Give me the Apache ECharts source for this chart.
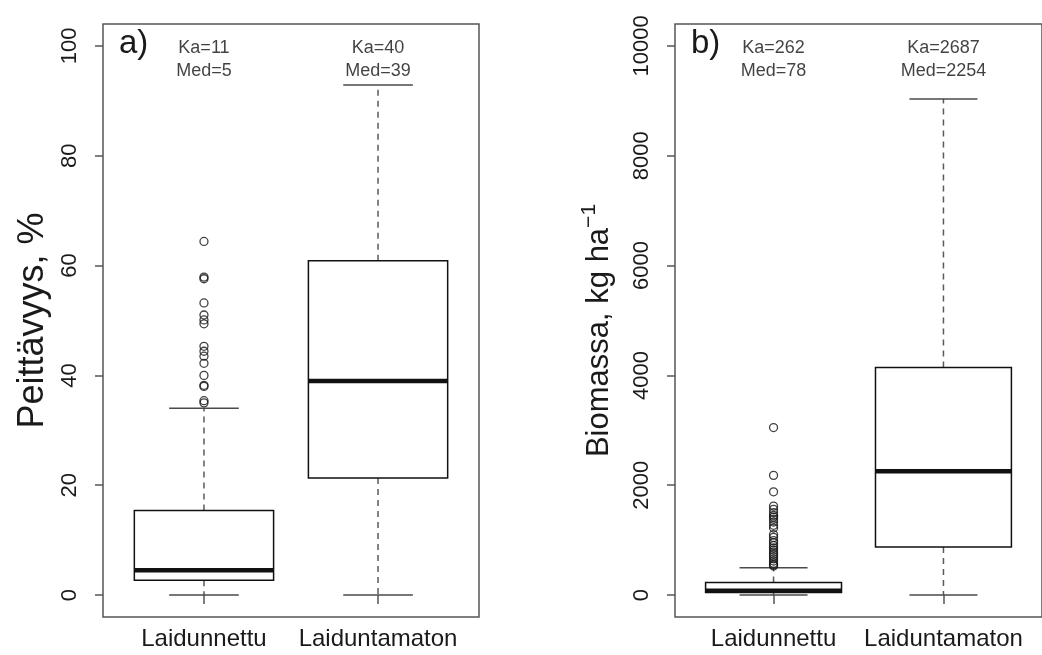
<!DOCTYPE html>
<html><head><meta charset="utf-8">
<script src="https://cdn.jsdelivr.net/npm/echarts@6/dist/echarts.min.js"></script>
<style>html,body{margin:0;padding:0;background:#fff}#c{width:1042px;height:655px}</style>
</head><body><div id="c"></div>
<script>
// ---------- data ----------
const categories = ['Laidunnettu', 'Laiduntamaton'];
// [lowerWhisker, Q1, median, Q3, upperWhisker]
const coverStats = [[0, 2.7, 4.5, 15.4, 34.0], [0, 21.3, 39, 60.9, 92.9]];
const coverOutliers = [64.4, 57.9, 57.6, 53.2, 51.0, 50.1, 49.4, 45.3, 44.4, 43.5, 42.2, 40.0, 38.2, 38.0, 35.4, 35.0];
const coverMean = [11, 40];
const coverMedian = [5, 39];
const coverTicks = [0, 20, 40, 60, 80, 100];

const biomassStats = [[0, 45, 78, 230, 497], [0, 873, 2254, 4145, 9036]];
const biomassOutliers = [3050, 2180, 1880, 1620, 1560, 1500, 1450, 1420, 1380, 1330, 1270, 1220, 1100, 1050, 990, 950, 900, 860, 820, 780, 740, 700, 660, 620, 580, 550, 530];
const biomassMean = [262, 2687];
const biomassMedian = [78, 2254];
const biomassTicks = [0, 2000, 4000, 6000, 8000, 10000];

// ---------- chart ----------
const FONT = '"Liberation Sans", Arial, Helvetica, sans-serif';
const TXT = '#1a1a1a';
const chart = echarts.init(document.getElementById('c'), null, {renderer: 'canvas'});

function renderBox(params, api) {
  const x = api.value(0);
  const lo = api.coord([x, api.value(1)]);
  const q1 = api.coord([x, api.value(2)]);
  const md = api.coord([x, api.value(3)]);
  const q3 = api.coord([x, api.value(4)]);
  const hi = api.coord([x, api.value(5)]);
  const bw = api.size([0.8, 0])[0];
  const sw = bw / 2;
  const cx = lo[0];
  const whisk = {stroke: '#5a5a5a', lineWidth: 1.5, lineDash: [6, 5], fill: null};
  const staple = {stroke: '#4a4a4a', lineWidth: 1.5, fill: null};
  return {
    type: 'group',
    children: [
      {type: 'line', shape: {x1: cx, y1: q3[1], x2: cx, y2: hi[1]}, style: whisk},
      {type: 'line', shape: {x1: cx, y1: q1[1], x2: cx, y2: lo[1]}, style: whisk},
      {type: 'line', shape: {x1: cx - sw / 2, y1: hi[1], x2: cx + sw / 2, y2: hi[1]}, style: staple},
      {type: 'line', shape: {x1: cx - sw / 2, y1: lo[1], x2: cx + sw / 2, y2: lo[1]}, style: staple},
      {type: 'rect', shape: {x: cx - bw / 2, y: q3[1], width: bw, height: q1[1] - q3[1]},
        style: {fill: '#fff', stroke: '#111', lineWidth: 1.5}},
      {type: 'line', shape: {x1: cx - bw / 2, y1: md[1], x2: cx + bw / 2, y2: md[1]},
        style: {stroke: '#111', lineWidth: 4.5}}
    ]
  };
}

function xAxisCfg(gi) {
  return {
    type: 'value', gridIndex: gi, min: 0.42, max: 2.58,
    axisLine: {show: false}, splitLine: {show: false},
    axisTick: {show: true, length: 9, customValues: [1, 2], lineStyle: {color: '#555', width: 1.5}},
    axisLabel: {show: true, customValues: [1, 2], margin: 10, fontSize: 24, color: TXT, fontFamily: FONT,
      formatter: v => categories[Math.round(v) - 1]}
  };
}
function yAxisCfg(gi, min, max, ticks, name, extra) {
  return Object.assign({
    type: 'value', gridIndex: gi, min: min, max: max,
    axisLine: {show: false}, splitLine: {show: false},
    axisTick: {show: true, length: 8, customValues: ticks, lineStyle: {color: '#555', width: 1.5}},
    axisLabel: {show: true, customValues: ticks, rotate: 90, margin: 22, fontSize: 22, color: TXT, fontFamily: FONT,
      formatter: v => String(v)},
    name: name, nameLocation: 'middle', nameGap: 52,
    nameTextStyle: {fontSize: 36, color: TXT, fontFamily: FONT}
  }, extra || {});
}

const statsRows = (s) => s.map((r, i) => [i + 1].concat(r));
const annRows = (mean, med, yv) => mean.map((m, i) => [i + 1, yv, 'Ka=' + m + '\nMed=' + med[i]]);

const option = {
  backgroundColor: '#fff',
  animation: false,
  grid: [
    {left: 103, right: 563, top: 24, bottom: 38, show: true, borderColor: '#555', borderWidth: 1.5, backgroundColor: 'transparent'},
    {left: 675, right: -9, top: 24, bottom: 38, show: true, borderColor: '#555', borderWidth: 1.5, backgroundColor: 'transparent'}
  ],
  xAxis: [xAxisCfg(0), xAxisCfg(1)],
  yAxis: [
    yAxisCfg(0, -4, 104, coverTicks, 'Peittävyys, %'),
    yAxisCfg(1, -400, 10400, biomassTicks, '{a|Biomassa, kg ha}{s|−1}', {
      nameGap: 56,
      nameTextStyle: {fontSize: 31, color: TXT, fontFamily: FONT, padding: [0, 20, 0, 0],
        rich: {a: {fontSize: 31, color: TXT, fontFamily: FONT, lineHeight: 40},
               s: {fontSize: 21, color: TXT, fontFamily: FONT, verticalAlign: 'top', lineHeight: 40}}}
    })
  ],
  series: [
    {type: 'custom', xAxisIndex: 0, yAxisIndex: 0, renderItem: renderBox, data: statsRows(coverStats),
      encode: {x: 0, y: [1, 2, 3, 4, 5]}, z: 2},
    {type: 'custom', xAxisIndex: 1, yAxisIndex: 1, renderItem: renderBox, data: statsRows(biomassStats),
      encode: {x: 0, y: [1, 2, 3, 4, 5]}, z: 2},
    {type: 'scatter', xAxisIndex: 0, yAxisIndex: 0, symbol: 'circle', symbolSize: 8,
      itemStyle: {color: 'rgba(0,0,0,0)', borderColor: '#111', borderWidth: 1.3},
      data: coverOutliers.map(v => [1, v]), z: 3},
    {type: 'scatter', xAxisIndex: 1, yAxisIndex: 1, symbol: 'circle', symbolSize: 8,
      itemStyle: {color: 'rgba(0,0,0,0)', borderColor: '#111', borderWidth: 1.3},
      data: biomassOutliers.map(v => [1, v]), z: 3},
    {type: 'scatter', xAxisIndex: 0, yAxisIndex: 0, symbolSize: 0, silent: true,
      data: annRows(coverMean, coverMedian, 97.5),
      label: {show: true, position: 'inside', formatter: p => p.data[2], fontSize: 18, lineHeight: 23, color: '#111', fontFamily: FONT}},
    {type: 'scatter', xAxisIndex: 1, yAxisIndex: 1, symbolSize: 0, silent: true,
      data: annRows(biomassMean, biomassMedian, 9750),
      label: {show: true, position: 'inside', formatter: p => p.data[2], fontSize: 18, lineHeight: 23, color: '#111', fontFamily: FONT}}
  ],
  graphic: [
    {type: 'text', left: 119, top: 27, style: {text: 'a)', fontSize: 33, fill: TXT, fontFamily: FONT}},
    {type: 'text', left: 691, top: 27, style: {text: 'b)', fontSize: 33, fill: TXT, fontFamily: FONT}}
  ]
};
chart.setOption(option);
</script>
</body></html>
